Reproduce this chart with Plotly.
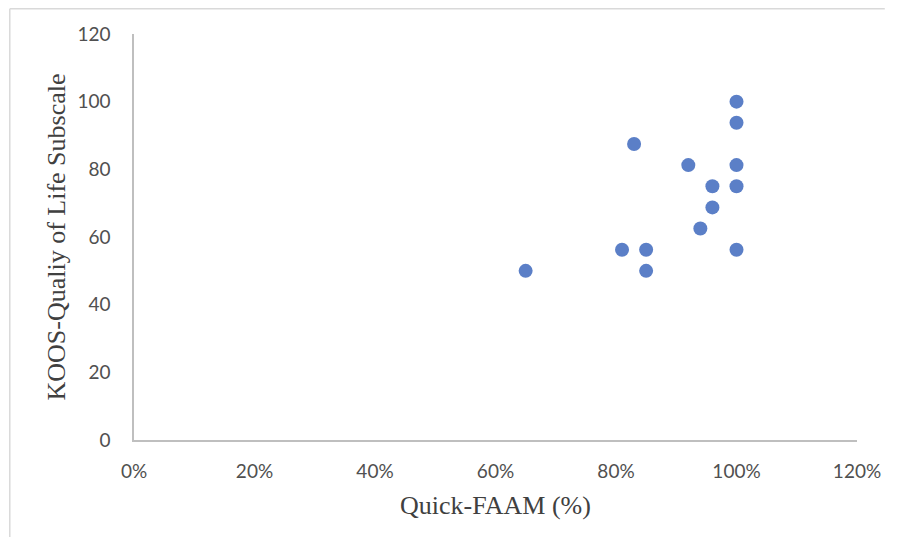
import plotly.graph_objects as go

quick_faam = [0.65, 0.81, 0.85, 0.85, 0.83, 0.92, 0.94, 0.96, 0.96, 1.00, 1.00, 1.00, 1.00, 1.00]
koos_qol = [50, 56.25, 56.25, 50, 87.5, 81.25, 62.5, 75, 68.75, 100, 93.75, 81.25, 75, 56.25]
x_ticks = [0, 0.2, 0.4, 0.6, 0.8, 1.0, 1.2]
y_ticks = [0, 20, 40, 60, 80, 100, 120]

# page body has an 8px margin, so the figure is sized to fit inside the window
W, H = 885, 531
L, R, T, B = 126, 30, 26, 99
pw, ph = W - L - R, H - T - B

fig = go.Figure(go.Scatter(
    x=quick_faam, y=koos_qol, mode="markers",
    marker=dict(size=14, color="#5B7FC7"),
    showlegend=False,
))

tick_font = dict(family="Lato, Open Sans, sans-serif", size=19, color="#505050")
title_font = dict(family="Liberation Serif, Times New Roman, serif", size=26, color="#404040")

fig.update_layout(
    width=W, height=H,
    margin=dict(l=L, r=R, t=T, b=B),
    paper_bgcolor="white", plot_bgcolor="white",
    xaxis=dict(
        range=[0, 1.2], tickvals=x_ticks, tickformat=".0%",
        showgrid=False, zeroline=False, showline=True, linecolor="#BFBFBF", linewidth=1.5,
        ticks="outside", ticklen=13, tickcolor="rgba(0,0,0,0)",
        tickfont=tick_font,
        title=dict(text="Quick-FAAM (%)", font=title_font, standoff=15),
    ),
    yaxis=dict(
        range=[0, 120], tickvals=y_ticks,
        showgrid=False, zeroline=False, showline=True, linecolor="#BFBFBF", linewidth=1.5,
        ticks="outside", ticklen=18, tickcolor="rgba(0,0,0,0)",
        tickfont=tick_font,
        title=dict(text="KOOS-Qualiy of Life Subscale", font=title_font, standoff=4),
    ),
)

# light frame of the chart: only left and top edges are visible (kept inside the figure)
fx = (-L + 0.75) / pw
fy = 1 + (T - 0.75) / ph
frame = dict(color="#D9D9D9", width=1.5)
fig.add_shape(type="line", xref="paper", yref="paper", x0=fx, x1=fx, y0=fy, y1=-(B - 2) / ph,
              line=frame, layer="below")
fig.add_shape(type="line", xref="paper", yref="paper", x0=fx, x1=(W - L - 2) / pw, y0=fy, y1=fy,
              line=frame, layer="below")

fig.write_html("out.html")
